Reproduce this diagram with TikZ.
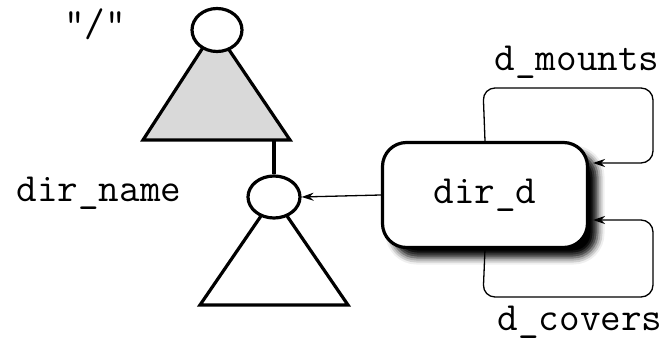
\documentclass[tikz,border=0pt]{standalone}
\usetikzlibrary{shapes.geometric,arrows.meta,shadows.blur}
\begin{document}
\begin{tikzpicture}[x=1pt,y=-1pt,
  lbl/.style={font=\fontsize{40}{40}\selectfont\ttfamily, inner sep=0pt},
  treenode/.style={ellipse, draw, line width=3.2pt, fill=white, inner sep=0pt, minimum width=50pt, minimum height=43pt},
  tri/.style={line width=3.2pt, line join=miter},
  dirbox/.style={draw, line width=3.2pt, rounded corners=24pt, fill=white, minimum width=205pt, minimum height=105pt,
     blur shadow={shadow xshift=10pt, shadow yshift=-10pt, shadow blur radius=7pt, shadow opacity=100}},
  loopline/.style={line width=1.3pt, rounded corners=12pt},
  tip/.style={-{Stealth[length=12pt,width=8pt]}}
]
\useasboundingbox (0,0) rectangle (670,342);
% triangles
\draw[tri, fill=gray!30] (215,29) -- (143,140) -- (290,140) -- cycle;
\draw[tri, fill=white] (274,197) -- (200,305) -- (348,305) -- cycle;
% nodes
\node[treenode] (root) at (217,30) {};
\node[treenode, minimum width=52pt, minimum height=42pt] (dn) at (274,197) {};
\coordinate (tbase) at (274,140);
\draw[line width=3.2pt] (tbase) -- (dn.north);
\node[lbl] (quote) at (95,24) {"/"};
\node[lbl] (dirname) at (99,193) {dir\_name};
\node[dirbox] (dird) at (485,195) {};
\node[lbl] at (dird.center) (dirdtxt) {dir\_d};
\node[lbl] (dmounts) at (577,62) {d\_mounts};
\node[lbl] (dcovers) at (580,322) {d\_covers};
% connectors
\draw[tip, line width=1.3pt] (dird.west) -- (dn.east);
\coordinate (mtip) at (593,163);
\coordinate (ctip) at (593,220);
\draw[loopline, tip] (dird.north) -- (483,88) -- (653,88) -- (653,163) -- (mtip);
\draw[loopline, tip] (dird.south) -- (483,297) -- (653,297) -- (653,220) -- (ctip);
\end{tikzpicture}
\end{document}
